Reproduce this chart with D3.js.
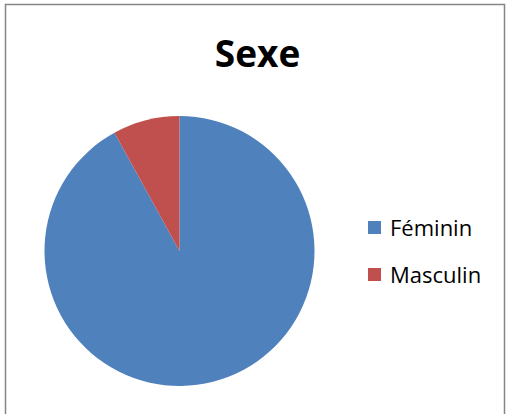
<!DOCTYPE html>
<html>
<head>
<meta charset="utf-8">
<script src="https://cdn.jsdelivr.net/npm/d3@7"></script>
<style>
  html, body { margin: 0; padding: 0; background: #fff; }
  svg { display: block; }
</style>
</head>
<body>
<div id="chart"></div>
<script>
// Répartition par sexe
const categories = ["Féminin", "Masculin"];
const values = [92, 8];
const colors = ["#4F81BD", "#C0504D"];
const title = "Sexe";

const W = 507, H = 414;
const svg = d3.select("#chart").append("svg")
  .attr("width", W).attr("height", H);

// chart area frame (open at the bottom edge of the window)
svg.append("path")
  .attr("d", "M5.5,420 V4.5 H504.5 V420")
  .attr("fill", "none")
  .attr("stroke", "#868686")
  .attr("stroke-width", 1.5);

svg.append("text")
  .attr("x", 257.5).attr("y", 67)
  .attr("text-anchor", "middle")
  .attr("font-family", "'Open Sans', sans-serif")
  .attr("font-weight", "bold")
  .attr("font-size", 37)
  .attr("fill", "#000")
  .text(title);

const data = categories.map((c, i) => ({ cat: c, value: values[i], color: colors[i] }));

const pie = d3.pie().sort(null).value(d => d.value);
const arc = d3.arc().innerRadius(0).outerRadius(135);

const g = svg.append("g").attr("transform", "translate(179.5,251)");
g.selectAll("path").data(pie(data)).join("path")
  .attr("d", arc)
  .attr("fill", d => d.data.color);

const color = d3.scaleOrdinal().domain(categories).range(colors);
const legend = svg.append("g").attr("transform", "translate(368,221)");
const item = legend.selectAll("g").data(categories).join("g")
  .attr("transform", (d, i) => `translate(0,${i * 47})`);
item.append("rect")
  .attr("width", 13).attr("height", 13)
  .attr("fill", d => color(d));
item.append("text")
  .attr("x", 22).attr("y", 15)
  .attr("font-family", "'Open Sans', sans-serif")
  .attr("font-size", 22)
  .attr("fill", "#000")
  .text(d => d);
</script>
</body>
</html>
